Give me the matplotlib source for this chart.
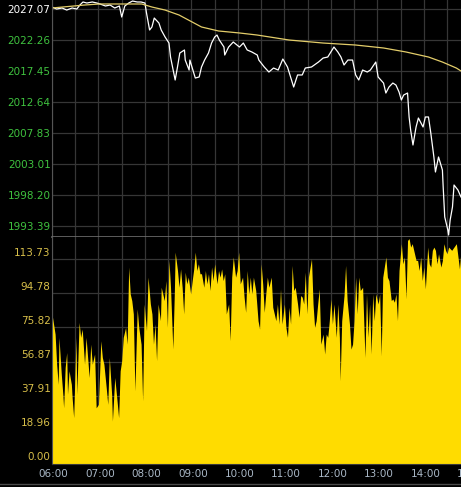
import numpy as np
import matplotlib.pyplot as plt
from matplotlib.lines import Line2D
from matplotlib.transforms import ScaledTranslation

# minutes after 06:00 and price of the last trade
price_min = [0, 6, 13, 19, 26, 32, 36, 40, 45, 52, 58, 62, 69, 75, 81, 87, 90, 94, 99, 104,
             110, 115, 120, 122, 126, 129, 132, 138, 141, 146, 151, 153, 159, 162, 165, 171, 172, 177, 178, 183,
             185, 190, 193, 197, 202, 206, 210, 213, 216, 222, 223, 228, 234, 242, 247, 252, 258, 265, 267, 274,
             280, 286, 292, 298, 304, 308, 312, 317, 323, 327, 335, 344, 350, 356, 360, 364, 369, 373, 377, 382,
             388, 392, 396, 401, 407, 411, 418, 421, 428, 431, 435, 440, 444, 448, 451, 454, 459, 461, 463, 466,
             470, 473, 479, 482, 486, 489, 493, 495, 499, 504, 505, 507, 511, 512, 514, 517, 519, 524, 528]
price = [2027.38, 2027.07, 2027.23, 2026.91, 2027.23, 2027.07, 2027.69, 2028.16, 2028.00, 2028.16,
         2028.00, 2027.85, 2027.54, 2027.69, 2027.23, 2027.54, 2025.83, 2027.54, 2028.00, 2028.31,
         2028.16, 2028.16, 2028.00, 2026.45, 2023.81, 2024.28, 2025.67, 2024.90, 2023.81, 2022.72,
         2021.79, 2019.62, 2016.05, 2018.07, 2020.24, 2020.71, 2019.15, 2017.60, 2019.15, 2017.14,
         2016.36, 2016.52, 2018.07, 2019.15, 2020.24, 2021.79, 2022.72, 2023.03, 2022.26, 2021.17,
         2019.93, 2021.17, 2021.95, 2021.17, 2021.79, 2020.71, 2020.40, 2019.93, 2019.15, 2018.07,
         2017.29, 2017.91, 2017.60, 2019.31, 2018.07, 2016.52, 2014.96, 2016.83, 2016.83, 2017.91,
         2018.07, 2018.84, 2019.46, 2019.62, 2020.40, 2021.17, 2020.40, 2019.62, 2018.38, 2019.15,
         2019.15, 2016.83, 2016.05, 2017.60, 2017.29, 2017.60, 2018.84, 2016.52, 2015.58, 2014.03,
         2014.96, 2015.58, 2015.27, 2014.19, 2012.95, 2013.72, 2014.03, 2010.31, 2008.29, 2005.96,
         2008.76, 2010.15, 2008.76, 2010.31, 2010.31, 2007.82, 2004.10, 2001.77, 2004.10, 2002.08,
         1999.44, 1994.79, 1992.77, 1991.99, 1994.32, 1996.34, 1999.75, 1998.98, 1997.89]

# moving average line
ma_min = [0, 42, 61, 87, 116, 129, 146, 164, 181, 193, 215, 242, 265, 306, 350, 392, 428, 457, 486, 504, 522, 528]
ma = [2027.23, 2027.69, 2027.85, 2027.85, 2027.85, 2027.38, 2026.91, 2026.14, 2025.05, 2024.28, 2023.66,
      2023.35, 2023.03, 2022.26, 2021.79, 2021.48, 2021.02, 2020.40, 2019.62, 2018.84, 2017.91, 2017.45]

# volume
vol_min = [0, 2, 4, 6, 8, 9, 12, 14, 15, 17, 19, 20, 22, 25, 26, 28, 31, 32, 35, 37,
           39, 42, 44, 48, 50, 52, 55, 57, 60, 63, 65, 67, 70, 72, 74, 77, 78, 81, 84, 86,
           88, 90, 92, 95, 97, 99, 101, 103, 105, 107, 110, 112, 115, 117, 119, 122, 124, 127, 129, 131,
           133, 135, 137, 140, 141, 145, 147, 149, 151, 153, 156, 158, 159, 162, 164, 166, 168, 170, 172, 174,
           176, 179, 181, 183, 185, 187, 189, 191, 193, 196, 198, 200, 202, 204, 206, 208, 210, 213, 215, 217,
           219, 221, 223, 225, 228, 230, 232, 234, 237, 239, 241, 243, 246, 248, 250, 252, 254, 256, 258, 260,
           263, 266, 268, 270, 272, 274, 276, 278, 280, 283, 285, 287, 289, 291, 293, 295, 297, 300, 302, 304,
           306, 308, 310, 312, 314, 317, 319, 321, 323, 325, 327, 329, 331, 335, 337, 339, 341, 343, 345, 347,
           350, 352, 354, 356, 358, 360, 362, 364, 367, 369, 371, 372, 374, 376, 377, 379, 381, 384, 386, 388,
           390, 392, 394, 396, 398, 401, 403, 404, 406, 408, 410, 412, 414, 416, 418, 421, 423, 425, 427, 431,
           433, 435, 438, 440, 442, 444, 446, 448, 451, 453, 455, 457, 459, 461, 463, 465, 468, 470, 472, 474,
           476, 478, 480, 482, 485, 487, 489, 491, 493, 495, 497, 499, 502, 504, 506, 508, 510, 512, 516, 522,
           526, 528]
vol = [83.3, 77.7, 72.1, 55.4, 44.2, 70.3, 49.8, 38.7, 31.2, 53.5, 61.9, 38.7, 51.7, 44.2, 36.8, 25.7, 70.3, 38.7, 78.6, 70.3,
       74.9, 55.4, 70.3, 48.0, 66.5, 55.4, 61.0, 31.2, 33.1, 68.4, 59.1, 55.4, 42.4, 33.1, 59.1, 38.7, 23.8, 48.0, 35.0, 25.7,
       51.7, 57.3, 70.3, 75.8, 66.5, 109.3, 94.4, 90.7, 83.3, 40.5, 86.1, 75.8, 66.5, 35.0, 88.8, 74.0, 103.7, 88.8, 83.3, 66.5,
       77.7, 57.3, 88.8, 79.6, 98.1, 90.7, 101.8, 75.8, 113.0, 98.1, 63.8, 96.3, 117.6, 107.4, 98.1, 108.3, 98.1, 83.3, 106.5, 100.0,
       103.7, 94.4, 101.8, 108.3, 117.6, 107.4, 111.1, 105.6, 105.6, 98.1, 107.4, 100.0, 105.6, 96.3, 109.3, 101.8, 111.1, 100.0, 107.4, 103.7,
       108.3, 101.8, 105.6, 83.3, 88.8, 68.4, 103.7, 114.9, 103.7, 107.4, 117.6, 100.0, 103.7, 92.6, 84.2, 107.4, 94.4, 103.7, 94.4, 103.7,
       96.3, 79.5, 74.9, 111.1, 100.0, 84.2, 94.4, 103.7, 98.1, 103.7, 87.0, 83.3, 79.5, 88.8, 77.7, 97.2, 77.7, 88.8, 75.8, 70.3,
       87.0, 77.7, 110.2, 96.3, 98.1, 88.8, 81.4, 93.5, 92.6, 88.8, 106.5, 83.3, 103.7, 113.9, 88.8, 75.8, 79.5, 88.8, 97.2, 66.5,
       72.1, 61.0, 72.1, 70.3, 79.5, 91.6, 77.7, 88.8, 70.3, 88.8, 70.3, 46.1, 79.5, 88.8, 93.5, 110.2, 90.7, 77.7, 63.8, 66.5,
       79.5, 103.7, 83.3, 103.7, 96.3, 98.1, 72.1, 59.1, 94.4, 70.3, 88.8, 61.0, 94.4, 79.5, 94.4, 88.8, 94.4, 60.0, 103.7, 114.9,
       103.7, 101.8, 90.7, 91.6, 89.8, 94.4, 79.5, 107.4, 122.3, 111.1, 114.9, 91.6, 124.1, 125.1, 120.4, 122.3, 116.7, 113.0, 113.0, 107.4,
       114.9, 101.8, 109.3, 97.2, 120.4, 111.1, 109.3, 118.6, 120.4, 118.6, 111.1, 116.7, 109.3, 113.0, 122.3, 118.6, 116.7, 120.4, 118.6, 122.3,
       108.3, 118.6]

price_ticks = [2027.07, 2022.26, 2017.45, 2012.64, 2007.83, 2003.01, 1998.20, 1993.39]
vol_ticks = [113.73, 94.78, 75.82, 56.87, 37.91, 18.96, 0.00]
time_labels = ['06:00', '07:00', '08:00', '09:00', '10:00', '11:00', '12:00', '13:00', '14:00', '15:00']

plt.rcParams['font.family'] = 'DejaVu Sans'
fig = plt.figure(figsize=(4.61, 4.87), dpi=100, facecolor='black')
ax1 = fig.add_axes([52 / 461, 250 / 487, 409 / 461, 237 / 487])
ax2 = fig.add_axes([52 / 461, 23 / 487, 409 / 461, 227 / 487])

grid_c = '#363636'
for ax in (ax1, ax2):
    ax.set_facecolor('black')
    ax.set_xticks(np.arange(0, 528, 30))
    ax.set_xlim(0, 528)
    ax.tick_params(axis='x', length=0, labelbottom=False)
    ax.tick_params(axis='y', length=0, pad=1, labelsize=7.5)
    ax.grid(True, color=grid_c, lw=0.9)
    ax.set_axisbelow(True)
    for s in ('top', 'right'):
        ax.spines[s].set_visible(False)
    ax.spines['left'].set_color('#555555')

# price panel
ax1.plot(price_min, price, color='white', lw=0.9)
ax1.plot(ma_min, ma, color='#e3cd6a', lw=0.9)
ax1.set_yticks(price_ticks)
ax1.set_yticklabels(['%.2f' % t for t in price_ticks])
ax1.set_ylim(1991.68, 2028.47)
for i, lab in enumerate(ax1.get_yticklabels()):
    lab.set_color('white' if i == 0 else '#3fc23f')
ax1.spines['bottom'].set_color('#6c6c6c')
ax1.spines['bottom'].set_linewidth(1.2)

# volume panel
ax2.fill_between(vol_min, vol, 0, color='#ffdc00', lw=0)
ax2.set_yticks(vol_ticks)
ax2.set_yticklabels(['%.2f' % t for t in vol_ticks])
ax2.set_ylim(0, 126.0)
shift = ScaledTranslation(0, 0.075, fig.dpi_scale_trans)
for lab in ax2.get_yticklabels():
    lab.set_color('#d8bf4a')
    lab.set_transform(lab.get_transform() + shift)
ax2.spines['bottom'].set_color('#3a3a3a')

# time labels below the volume panel (15:00 runs off the right edge)
for i, t in enumerate(time_labels):
    ax2.text(i * 60 + 2, -0.045, t, transform=ax2.get_xaxis_transform(), ha='center', va='center',
             color='#a9b7c6', fontsize=7.5, clip_on=False)
fig.add_artist(Line2D([0, 1], [3 / 487, 3 / 487], color='#4a4a4a', lw=1))

fig.savefig('out.png', dpi=100, facecolor='black')
